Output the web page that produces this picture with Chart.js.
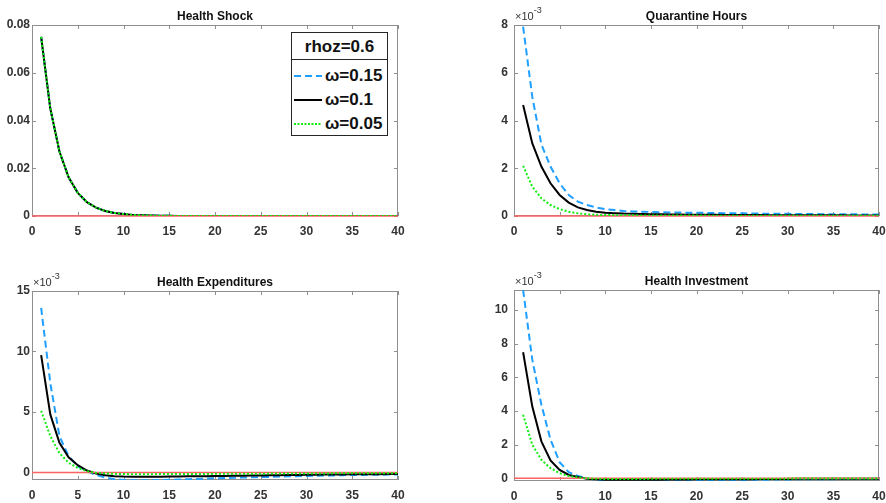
<!DOCTYPE html>
<html>
<head>
<meta charset="utf-8">
<script src="https://cdn.jsdelivr.net/npm/chart.js@4.4.1/dist/chart.umd.min.js"></script>
<style>
  body { margin: 0; background: #fff; }
  #wrap { position: relative; width: 886px; height: 503px; overflow: hidden; }
  .panel { position: absolute; }
  .legend {
    position: absolute; left: 291px; top: 32px; width: 95px; height: 102px;
    border: 1px solid #262626; background: #fff;
    font: bold 17px "Liberation Sans", Arial, sans-serif; color: #111;
  }
  .legend .head { height: 26px; line-height: 27px; text-align: center; border-bottom: 1px solid #262626; }
  .legend .rows { padding-top: 4px; }
  .legend .row { height: 24px; position: relative; }
  .legend .row svg { position: absolute; left: 2px; top: 0; }
  .legend .row span { position: absolute; left: 33px; top: 0; line-height: 24px; }
</style>
</head>
<body>
<div id="wrap">
  <div class="panel" style="left:0;top:0"><canvas id="c1" width="443" height="250"></canvas></div>
  <div class="panel" style="left:443px;top:0"><canvas id="c2" width="443" height="250"></canvas></div>
  <div class="panel" style="left:0;top:250px"><canvas id="c3" width="443" height="253"></canvas></div>
  <div class="panel" style="left:443px;top:250px"><canvas id="c4" width="443" height="253"></canvas></div>
  <div class="legend" id="legend"></div>
</div>
<script>
// periods of the impulse responses
const periods = [1,2,3,4,5,6,7,8,9,10,11,12,13,14,15,16,17,18,19,20,
                 21,22,23,24,25,26,27,28,29,30,31,32,33,34,35,36,37,38,39,40];
const zeroLineX = [0, 40];
const zeroLineY = [0, 0];

const legendTitle = 'rhoz=0.6';
const seriesNames = ['ω=0.15', 'ω=0.1', 'ω=0.05'];

// Health Shock (same path for every omega)
const healthShock = [0.075,0.045,0.027,0.0162,0.0097,0.0058,0.0035,0.0021,0.0013,0.0008,
                     0.00047,0.00028,0.00017,0.0001,0.00006,0.00004,0.00002,0.00001,0.00001,0,
                     0,0,0,0,0,0,0,0,0,0,0,0,0,0,0,0,0,0,0,0];

// Quarantine Hours (x 10^-3)
const quarantine15 = [7.93,5.0,3.0,2.07,1.37,0.88,0.6,0.46,0.36,0.29,
                      0.25,0.21,0.19,0.18,0.17,0.16,0.15,0.145,0.14,0.135,
                      0.13,0.125,0.12,0.115,0.11,0.105,0.1,0.097,0.094,0.09,
                      0.087,0.084,0.081,0.078,0.075,0.072,0.07,0.067,0.065,0.062];
const quarantine10 = [4.65,3.05,2.07,1.37,0.88,0.56,0.36,0.25,0.18,0.14,
                      0.12,0.1,0.09,0.08,0.075,0.07,0.065,0.06,0.057,0.054,
                      0.051,0.048,0.046,0.044,0.042,0.04,0.038,0.036,0.035,0.033,
                      0.032,0.031,0.03,0.029,0.028,0.027,0.026,0.025,0.024,0.023];
const quarantine05 = [2.1,1.23,0.74,0.46,0.29,0.18,0.11,0.07,0.05,0.04,
                      0.035,0.03,0.027,0.025,0.023,0.021,0.02,0.019,0.018,0.017,
                      0.016,0.015,0.014,0.014,0.013,0.013,0.012,0.012,0.011,0.011,
                      0.01,0.01,0.01,0.009,0.009,0.009,0.008,0.008,0.008,0.008];

// Health Expenditures (x 10^-3)
const expend15 = [13.6,7.4,3.0,1.35,0.52,0.11,-0.2,-0.42,-0.55,-0.62,
                  -0.65,-0.65,-0.64,-0.62,-0.6,-0.58,-0.56,-0.53,-0.5,-0.48,
                  -0.46,-0.44,-0.42,-0.4,-0.38,-0.36,-0.34,-0.32,-0.3,-0.28,
                  -0.27,-0.25,-0.24,-0.22,-0.21,-0.2,-0.19,-0.18,-0.17,-0.16];
const expend10 = [9.7,4.8,2.45,1.26,0.6,0.16,-0.08,-0.22,-0.3,-0.34,
                  -0.36,-0.36,-0.36,-0.35,-0.34,-0.33,-0.32,-0.31,-0.3,-0.29,
                  -0.28,-0.27,-0.26,-0.25,-0.24,-0.23,-0.22,-0.21,-0.2,-0.19,
                  -0.18,-0.17,-0.16,-0.16,-0.15,-0.15,-0.14,-0.14,-0.13,-0.13];
const expend05 = [5.1,3.0,1.6,0.8,0.38,0.11,-0.03,-0.08,-0.11,-0.13,
                  -0.14,-0.14,-0.14,-0.13,-0.13,-0.13,-0.12,-0.12,-0.12,-0.11,
                  -0.11,-0.11,-0.1,-0.1,-0.1,-0.09,-0.09,-0.09,-0.08,-0.08,
                  -0.08,-0.08,-0.07,-0.07,-0.07,-0.07,-0.06,-0.06,-0.06,-0.06];

// Health Investment (x 10^-3)
const invest15 = [11.2,7.07,4.38,2.3,0.96,0.36,0.14,0,-0.1,-0.16,
                  -0.2,-0.2,-0.2,-0.19,-0.19,-0.18,-0.17,-0.16,-0.15,-0.14,
                  -0.13,-0.12,-0.11,-0.1,-0.1,-0.09,-0.08,-0.08,-0.07,-0.07,
                  -0.06,-0.06,-0.05,-0.05,-0.05,-0.04,-0.04,-0.04,-0.03,-0.03];
const invest10 = [7.5,4.28,2.2,1.06,0.5,0.2,0.08,-0.02,-0.06,-0.08,
                  -0.09,-0.09,-0.09,-0.08,-0.08,-0.08,-0.07,-0.07,-0.07,-0.06,
                  -0.06,-0.06,-0.05,-0.05,-0.05,-0.05,-0.04,-0.04,-0.04,-0.04,
                  -0.03,-0.03,-0.03,-0.03,-0.03,-0.02,-0.02,-0.02,-0.02,-0.02];
const invest05 = [3.78,2.0,1.1,0.6,0.3,0.14,0.06,0,-0.03,-0.04,
                  -0.04,-0.04,-0.04,-0.04,-0.03,-0.03,-0.03,-0.03,-0.03,-0.03,
                  -0.02,-0.02,-0.02,-0.02,-0.02,-0.02,-0.02,-0.02,-0.02,-0.02,
                  -0.01,-0.01,-0.01,-0.01,-0.01,-0.01,-0.01,-0.01,-0.01,-0.01];

const xTicks = [0,5,10,15,20,25,30,35,40];

const BLUE = '#1f9fff', BLACK = '#000000', GREEN = '#11ee11', RED = '#ff6262';
const FONT = '"Liberation Sans", Arial, sans-serif';

const panels = [
  { id: 'c1', title: 'Health Shock', exp: false, yMin: 0, yMax: 0.08, yTicks: [0, 0.02, 0.04, 0.06, 0.08],
    s15: healthShock, s10: healthShock, s05: healthShock, L: 32, R: 45, T: 25, B: 12, pad: 2 },
  { id: 'c2', title: 'Quarantine Hours', exp: true, yMin: 0, yMax: 8, yTicks: [0, 2, 4, 6, 8],
    s15: quarantine15, s10: quarantine10, s05: quarantine05, L: 71, R: 7, T: 25, B: 12, pad: 6 },
  { id: 'c3', title: 'Health Expenditures', exp: true, yMin: -0.62, yMax: 15, yTicks: [0, 5, 10, 15],
    s15: expend15, s10: expend10, s05: expend05, L: 32, R: 45, T: 41, B: 1, pad: 2 },
  { id: 'c4', title: 'Health Investment', exp: true, yMin: -0.16, yMax: 11.2, yTicks: [0, 2, 4, 6, 8, 10],
    s15: invest15, s10: invest10, s05: invest05, L: 71, R: 7, T: 40, B: 0, pad: 6 }
];

// MATLAB-like box with inward ticks, title and the x10^-3 multiplier
const axesFrame = {
  id: 'axesFrame',
  beforeDatasetsDraw(chart, args, opts) {
    const { ctx, chartArea: a, scales: { x, y } } = chart;
    ctx.save();
    ctx.strokeStyle = '#8f8f8f';
    ctx.lineWidth = 1;
    ctx.strokeRect(Math.round(a.left) + 0.5, Math.round(a.top) + 0.5,
                   Math.round(a.width) - 1, Math.round(a.height) - 1);
    ctx.beginPath();
    x.ticks.forEach(t => {
      const px = Math.round(x.getPixelForValue(t.value)) + 0.5;
      ctx.moveTo(px, a.bottom); ctx.lineTo(px, a.bottom - 4);
      ctx.moveTo(px, a.top); ctx.lineTo(px, a.top + 4);
    });
    y.ticks.forEach(t => {
      const py = Math.round(y.getPixelForValue(t.value)) + 0.5;
      ctx.moveTo(a.left, py); ctx.lineTo(a.left + 4, py);
      ctx.moveTo(a.right, py); ctx.lineTo(a.right - 4, py);
    });
    ctx.stroke();
    ctx.restore();
  },
  afterDraw(chart, args, opts) {
    const { ctx, chartArea: a } = chart;
    ctx.save();
    ctx.fillStyle = '#111';
    ctx.font = 'bold 12px ' + FONT;
    ctx.textAlign = 'center';
    ctx.fillText(opts.title, (a.left + a.right) / 2, a.top - 5);
    if (opts.exp) {
      ctx.textAlign = 'left';
      ctx.fillStyle = '#333';
      ctx.font = '11px ' + FONT;
      ctx.fillText('×10', a.left + 1, a.top - 5);
      const w = ctx.measureText('×10').width;
      ctx.font = '9px ' + FONT;
      ctx.fillText('-3', a.left + 1 + w, a.top - 12);
    }
    ctx.restore();
  }
};

function toPoints(xs, ys) {
  return xs.map((v, i) => ({ x: v, y: ys[i] }));
}

panels.forEach(p => {
  new Chart(document.getElementById(p.id), {
    type: 'line',
    data: {
      datasets: [
        { label: seriesNames[2], data: toPoints(periods, p.s05), borderColor: GREEN, borderWidth: 2, borderDash: [2, 2] },
        { label: 'zero', data: toPoints(zeroLineX, zeroLineY), borderColor: RED, borderWidth: 1.5, clip: false },
        { label: seriesNames[1], data: toPoints(periods, p.s10), borderColor: BLACK, borderWidth: 2 },
        { label: seriesNames[0], data: toPoints(periods, p.s15), borderColor: BLUE, borderWidth: 2, borderDash: [7, 4] }
      ]
    },
    options: {
      responsive: false,
      animation: false,
      layout: { padding: { left: 0, right: p.R, top: p.T, bottom: p.B } },
      elements: { point: { radius: 0 }, line: { tension: 0 } },
      plugins: {
        legend: { display: false },
        tooltip: { enabled: false },
        axesFrame: { title: p.title, exp: p.exp }
      },
      scales: {
        x: {
          type: 'linear', min: 0, max: 40,
          grid: { display: false, drawTicks: false },
          border: { display: false },
          ticks: { font: { family: FONT, size: 12, weight: 'bold' }, color: '#333', padding: 8, maxRotation: 0 },
          afterBuildTicks: s => { s.ticks = xTicks.map(v => ({ value: v })); },
          afterFit: s => { s.height = 22; s.paddingLeft = 0; s.paddingRight = 0; }
        },
        y: {
          type: 'linear', min: p.yMin, max: p.yMax,
          grid: { display: false, drawTicks: false },
          border: { display: false },
          ticks: { font: { family: FONT, size: 12, weight: 'bold' }, color: '#333', padding: p.pad },
          afterBuildTicks: s => { s.ticks = p.yTicks.map(v => ({ value: v })); },
          afterFit: s => { s.width = p.L; s.paddingTop = 0; s.paddingBottom = 0; }
        }
      }
    },
    plugins: [axesFrame]
  });
});

// HTML legend drawn over the first panel
const legendEl = document.getElementById('legend');
const samples = [
  `<line x1="0" y1="12" x2="28" y2="12" stroke="${BLUE}" stroke-width="2" stroke-dasharray="7,4"/>`,
  `<line x1="0" y1="12" x2="28" y2="12" stroke="${BLACK}" stroke-width="2"/>`,
  `<line x1="0" y1="12" x2="28" y2="12" stroke="${GREEN}" stroke-width="2" stroke-dasharray="2,1.5"/>`
];
let html = `<div class="head">${legendTitle}</div><div class="rows">`;
seriesNames.forEach((name, i) => {
  html += `<div class="row"><svg width="30" height="24">${samples[i]}</svg><span>${name}</span></div>`;
});
html += '</div>';
legendEl.innerHTML = html;
</script>
</body>
</html>
